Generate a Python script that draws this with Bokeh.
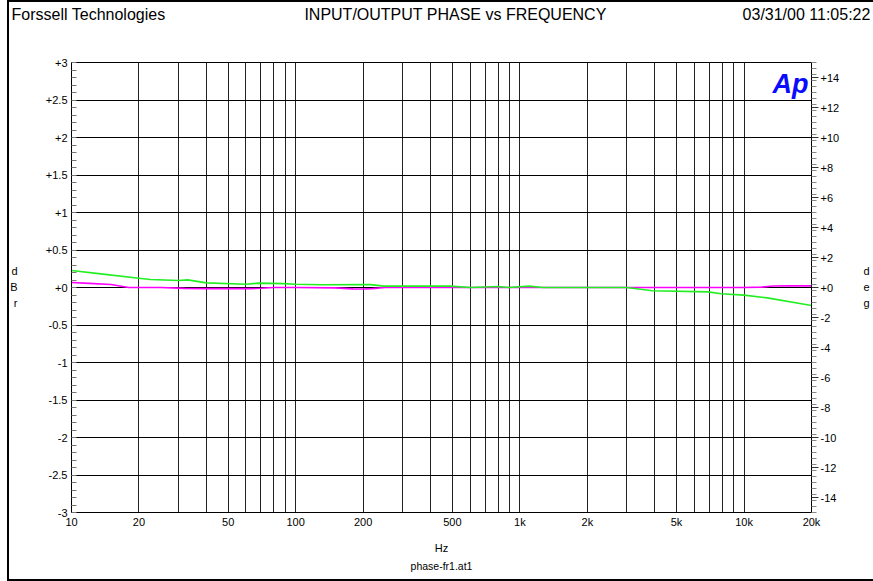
import math
from bokeh.plotting import figure
from bokeh.models import Range1d, LinearAxis, LogAxis, FixedTicker, CustomJSTickFormatter, Label
from bokeh.embed import file_html
from bokeh.resources import INLINE

# ---------------- data ----------------
# magenta trace (dBr, left axis)
mag_freq = [10, 12, 15, 18, 25, 32, 40, 50, 63, 70, 80, 100, 150, 180, 200, 220, 250,
            500, 1000, 2000, 5000, 10000, 12000, 13500, 16000, 20000]
mag_dbr = [0.067, 0.055, 0.04, 0.0, 0.0, -0.012, -0.015, -0.015, -0.015, -0.01, 0.0, 0.0,
           -0.005, -0.018, -0.02, -0.015, 0.0, 0.0, 0.0, 0.0, 0.0, 0.0, 0.005, 0.02, 0.022, 0.022]

# green trace (deg, right axis)
grn_freq = [10, 13.5, 20, 22.5, 30, 33, 40, 60, 68, 88, 100, 130, 216, 247, 490, 600, 800,
            890, 1100, 1270, 2000, 3000, 3900, 6900, 7900, 10000, 12700, 20000]
grn_deg = [1.13, 0.91, 0.62, 0.53, 0.47, 0.51, 0.31, 0.22, 0.29, 0.26, 0.22, 0.18, 0.19, 0.09,
           0.09, 0.0, 0.07, 0.0, 0.09, 0.0, 0.0, 0.0, -0.22, -0.29, -0.42, -0.51, -0.69, -1.2]

x_ticks = [10, 20, 50, 100, 200, 500, 1000, 2000, 5000, 10000, 20000]
left_ticks = [-3 + 0.5 * i for i in range(13)]
left_minor = [-3 + 0.1 * i for i in range(61)]
right_ticks = [-14 + 2 * i for i in range(15)]
right_minor = [-15 + 0.4 * i for i in range(76)]
grid_freqs = [m * 10 ** d for d in range(1, 5) for m in range(1, 10) if m * 10 ** d <= 20000]

header_texts = ["Forssell Technologies", "INPUT/OUTPUT PHASE vs FREQUENCY", "03/31/00 11:05:22"]
left_unit = ["r", "B", "d"]      # bottom -> top
right_unit = ["g", "e", "d"]     # bottom -> top
x_unit = "Hz"
file_name = "phase-fr1.at1"

FONT = "Liberation Sans"

# frame placement in page pixels
W, H = 873, 581
FL, FR, FT, FB = 71, 811, 62, 512
LOGSPAN = math.log10(20000 / 10)


def fx(px):
    return 10 ** (1 + (px - FL) / (FR - FL) * LOGSPAN)


def fy(py):
    return 3 - (py - FT) / (FB - FT) * 6


p = figure(width=W, height=H, x_axis_type="log",
           x_range=Range1d(10, 20000), y_range=Range1d(-3, 3),
           output_backend="svg", toolbar_location=None,
           min_border_left=FL, min_border_right=W - FR,
           min_border_top=FT, min_border_bottom=H - FB)
p.extra_y_ranges = {"deg": Range1d(-15, 15)}
p.border_fill_color = None
p.background_fill_color = "white"
p.outline_line_color = "black"
p.outline_line_width = 1
p.styles = {"background": "linear-gradient(#000,#000) 7px 0px / 2px 100% no-repeat, "
                          "linear-gradient(#000,#000) 7px 0px / 100% 2px no-repeat, "
                          "linear-gradient(#000,#000) 7px 579px / 100% 2px no-repeat"}


def quiet(ax):
    ax.axis_line_color = None
    ax.major_tick_line_color = None
    ax.minor_tick_line_color = None
    ax.major_tick_in = 0
    ax.major_tick_out = 0
    ax.minor_tick_in = 0
    ax.minor_tick_out = 0
    ax.major_label_text_font = FONT
    ax.major_label_text_color = "black"


# x axis
xa = p.xaxis[0]
xa.ticker = FixedTicker(ticks=x_ticks, minor_ticks=[])
xa.formatter = CustomJSTickFormatter(code="return tick >= 1000 ? (tick/1000) + 'k' : String(tick);")
xa.major_tick_in = 0
xa.major_tick_out = 0
xa.minor_tick_in = 0
xa.minor_tick_out = 0
xa.axis_line_color = "black"
xa.major_label_standoff = 3
xa.major_label_text_font = FONT
xa.major_label_text_font_size = "11px"
xa.major_label_text_color = "black"
xa.axis_label = x_unit
xa.axis_label_text_font = FONT
xa.axis_label_text_font_style = "normal"
xa.axis_label_text_font_size = "11px"
xa.axis_label_text_color = "black"
xa.axis_label_standoff = 11

# file name under the axis label
fa = LogAxis(ticker=FixedTicker(ticks=[fx((FL + FR) / 2)], minor_ticks=[]),
             formatter=CustomJSTickFormatter(args=dict(labels=[file_name]), code="return labels[index];"))
quiet(fa)
fa.major_label_text_font_size = "10.5px"
fa.major_label_standoff = 3
p.add_layout(fa, "below")

# header row as an axis above the frame
ha = LogAxis(ticker=FixedTicker(ticks=[fx(88), fx(455), fx(806)], minor_ticks=[]),
             formatter=CustomJSTickFormatter(args=dict(labels=header_texts), code="return labels[index];"))
quiet(ha)
ha.major_label_text_font_size = "16px"
ha.major_label_standoff = 40
p.add_layout(ha, "above")

# left axis
ya = p.yaxis[0]
ya.ticker = FixedTicker(ticks=left_ticks, minor_ticks=left_minor)
ya.formatter = CustomJSTickFormatter(code="return (tick >= 0 ? '+' : '') + tick;")
ya.major_tick_in = 0
ya.major_tick_out = 0
ya.minor_tick_in = 5
ya.minor_tick_out = 0
ya.minor_tick_line_color = "#777777"
ya.axis_line_color = "black"
ya.major_label_standoff = 4
ya.major_label_text_font = FONT
ya.major_label_text_font_size = "11px"
ya.major_label_text_color = "black"

la = LinearAxis(ticker=FixedTicker(ticks=[fy(302), fy(286), fy(270)], minor_ticks=[]),
                formatter=CustomJSTickFormatter(args=dict(labels=left_unit), code="return labels[index];"))
quiet(la)
la.major_label_text_font_size = "11px"
la.major_label_standoff = 25
p.add_layout(la, "left")

# right axis
ra = LinearAxis(y_range_name="deg",
                ticker=FixedTicker(ticks=right_ticks, minor_ticks=right_minor),
                formatter=CustomJSTickFormatter(code="return (tick >= 0 ? '+' : '') + tick;"))
ra.major_tick_in = 0
ra.major_tick_out = 7
ra.minor_tick_in = 0
ra.minor_tick_out = 5
ra.minor_tick_line_color = "#888888"
ra.major_tick_line_color = "#333333"
ra.axis_line_color = "black"
ra.major_label_standoff = 2
ra.major_label_text_font = FONT
ra.major_label_text_font_size = "11px"
ra.major_label_text_color = "black"
p.add_layout(ra, "right")

rb = LinearAxis(ticker=FixedTicker(ticks=[fy(302), fy(286), fy(270)], minor_ticks=[]),
                formatter=CustomJSTickFormatter(args=dict(labels=right_unit), code="return labels[index];"))
quiet(rb)
rb.major_label_text_font_size = "11px"
rb.major_label_standoff = 21
p.add_layout(rb, "right")

# grids
p.xgrid.ticker = FixedTicker(ticks=grid_freqs)
p.xgrid.grid_line_color = "#222222"
p.xgrid.grid_line_width = 1
p.ygrid.ticker = FixedTicker(ticks=left_ticks)
p.ygrid.grid_line_color = "black"
p.ygrid.grid_line_width = 1

# traces
p.line(mag_freq, mag_dbr, line_color="#ff00ff", line_width=1.6)
p.line(grn_freq, grn_deg, y_range_name="deg", line_color="#22ee22", line_width=1.6)

# Ap logo inside the frame
p.add_layout(Label(x=fx(808), y=fy(83), text="Ap", text_align="right", text_baseline="alphabetic",
                   text_font=FONT, text_font_size="27px", text_font_style="bold italic",
                   text_color="#0a0aff"))

open("out.html", "w").write(file_html(p, INLINE))
